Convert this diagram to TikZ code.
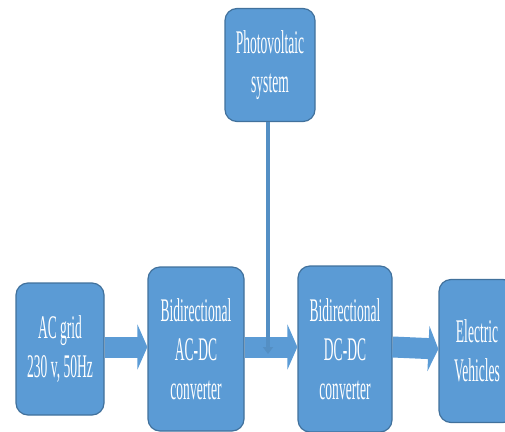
\documentclass[tikz,border=0pt]{standalone}
\usepackage{fontspec}
\setmainfont[FakeStretch=0.41]{Liberation Serif}
\usetikzlibrary{arrows.meta}
\definecolor{boxblue}{HTML}{5B9BD5}
\definecolor{boxedge}{HTML}{41719C}
\begin{document}
\begin{tikzpicture}[x=1pt,y=-1pt,
    box/.style={draw=boxedge,line width=1.2pt,fill=boxblue,rounded corners=12pt,
                text=white,align=center,inner sep=0pt,
                font=\fontsize{33}{39}\selectfont},
    flow/.style={draw=boxblue,line width=21pt,-{Triangle[length=10pt,width=45pt]}},
    feed/.style={draw=boxblue!92!black,line width=4pt,-{Triangle[length=7pt,width=10pt]}}]
    \useasboundingbox (0,0) rectangle (505,431);
    \clip (0,0) rectangle (505,431);
    \node[box,minimum width=90pt,minimum height=113pt] (pv)     at (270,65)  {Photovoltaic\\system};
    \node[box,minimum width=88pt,minimum height=132pt] (acgrid) at (60,349)  {AC grid\\230 v, 50Hz};
    \node[box,minimum width=96pt,minimum height=164pt] (acdc)   at (196,349) {Bidirectional\\AC-DC\\converter};
    \node[box,minimum width=94pt,minimum height=166pt] (dcdc)   at (345,349) {Bidirectional\\DC-DC\\converter};
    \node[box,minimum width=76pt,minimum height=143pt] (ev)     at (477,351) {Electric\\Vehicles};
    \coordinate (pvend) at (268,354);
    \draw[flow] ([yshift=2pt]acgrid.east) -- ([yshift=2pt]acdc.west);
    \draw[flow] ([yshift=2pt]acdc.east)   -- ([yshift=2pt]dcdc.west);
    \draw[flow] ([yshift=2pt]dcdc.east)   -- ([yshift=2pt]ev.west);
    \draw[feed] (pv.south -| pvend) -- (pvend);
\end{tikzpicture}
\end{document}
